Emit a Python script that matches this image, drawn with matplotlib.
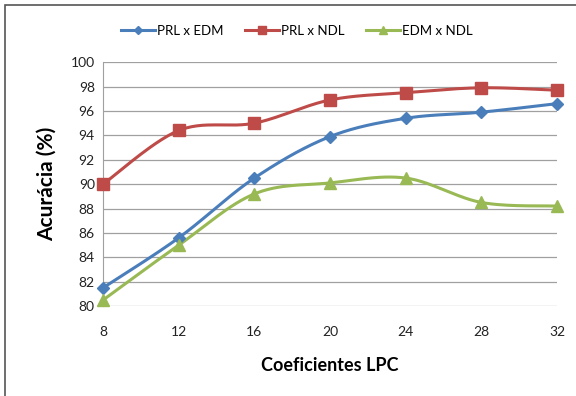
import numpy as np
import matplotlib
matplotlib.use("Agg")
import matplotlib.pyplot as plt
from matplotlib.patches import Rectangle

plt.rcParams['font.family'] = ['Lato', 'DejaVu Sans']

x_vals = [8, 12, 16, 20, 24, 28, 32]
prl_edm = [81.5, 85.6, 90.5, 93.9, 95.4, 95.9, 96.6]
prl_ndl = [90.0, 94.4, 95.0, 96.9, 97.5, 97.9, 97.7]
edm_ndl = [80.5, 85.0, 89.2, 90.1, 90.5, 88.5, 88.2]
labels = ["PRL x EDM", "PRL x NDL", "EDM x NDL"]
colors = ["#4A7EBB", "#BE4B48", "#98B954"]
markers = ["D", "s", "^"]
msizes = [6, 8, 8]


def smooth(x, y, n=30):
    # Catmull-Rom style Bezier smoothing (like spreadsheet smoothed lines)
    x = np.asarray(x, float); y = np.asarray(y, float)
    px = np.concatenate([[x[0]], x, [x[-1]]])
    py = np.concatenate([[y[0]], y, [y[-1]]])
    xs, ys = [], []
    t = np.linspace(0, 1, n)
    for i in range(1, len(px) - 2):
        p0 = np.array([px[i], py[i]]); p3 = np.array([px[i + 1], py[i + 1]])
        c1 = p0 + (np.array([px[i + 1], py[i + 1]]) - np.array([px[i - 1], py[i - 1]])) / 6
        c2 = p3 - (np.array([px[i + 2], py[i + 2]]) - np.array([px[i], py[i]])) / 6
        b = ((1 - t) ** 3)[:, None] * p0 + (3 * (1 - t) ** 2 * t)[:, None] * c1 + \
            (3 * (1 - t) * t ** 2)[:, None] * c2 + (t ** 3)[:, None] * p3
        xs.extend(b[:, 0]); ys.extend(b[:, 1])
    return np.array(xs), np.array(ys)


fig = plt.figure(figsize=(5.76, 3.96), dpi=100)
ax = fig.add_axes([0.179, 0.227, 0.788, 0.616])

for ydat, lab, c, m, ms in zip([prl_edm, prl_ndl, edm_ndl], labels, colors, markers, msizes):
    sx, sy = smooth(x_vals, ydat)
    ax.plot(sx, sy, color=c, lw=2.2, zorder=3)
    ax.plot(x_vals, ydat, linestyle='none', marker=m, color=c, ms=ms, zorder=4, clip_on=False)
    ax.plot([], [], color=c, lw=2.2, marker=m, ms=ms - 2, label=lab)

ax.set_xlim(8, 32)
ax.set_ylim(80, 100)
ax.set_xticks(x_vals)
ax.set_yticks(range(80, 101, 2))
ax.grid(axis='y', color='#A0A0A0', lw=0.9)
ax.set_axisbelow(True)
for s in ['top', 'right', 'bottom']:
    ax.spines[s].set_visible(False)
ax.spines['left'].set_color('#A0A0A0')
ax.tick_params(length=0, labelsize=10, colors='#222222')
ax.tick_params(axis='x', pad=14)
ax.tick_params(axis='y', pad=6)
ax.set_xlabel("Coeficientes LPC", fontsize=13, fontweight='bold', labelpad=14)
ax.set_ylabel("Acurácia (%)", fontsize=15, fontweight='bold', labelpad=10)

leg = fig.legend(loc='center', bbox_to_anchor=(0.515, 0.922), ncol=3, frameon=False,
                 fontsize=9.5, handlelength=2.6, columnspacing=1.6, handletextpad=0.15)

fig.patches.append(Rectangle((0.009, -0.05), 1.2, 1.037, transform=fig.transFigure,
                             fill=False, edgecolor='#555555', lw=1.2))

fig.savefig("out.png", dpi=100)
